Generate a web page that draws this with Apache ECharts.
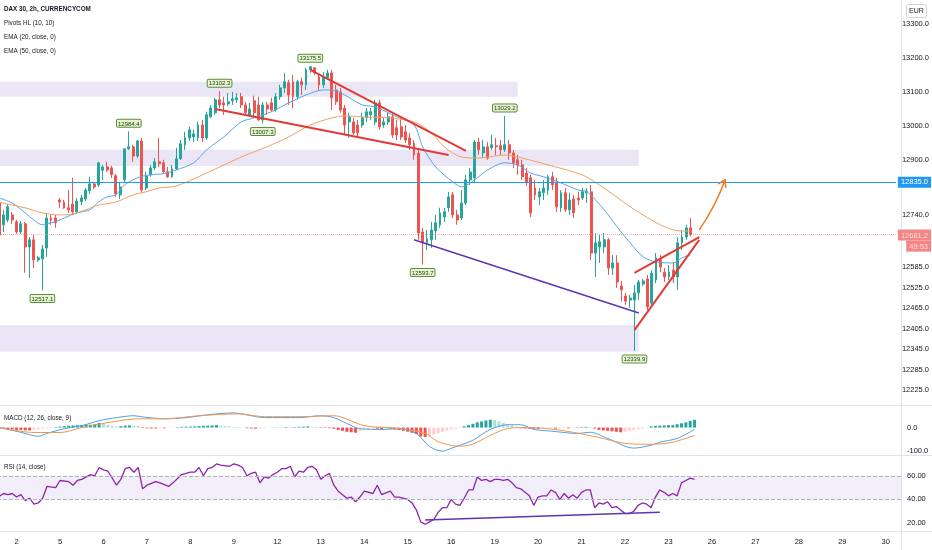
<!DOCTYPE html>
<html><head><meta charset="utf-8">
<script src="https://cdn.jsdelivr.net/npm/echarts@6/dist/echarts.min.js"></script>
<style>html,body{margin:0;padding:0;background:#fff;overflow:hidden}#c{width:935px;height:550px;margin-left:-3px}</style>
</head><body><div id="c"></div>
<script>
// ---------- data ----------
const dayLabels = ['2','5','6','7','8','9','12','13','14','15','16','19','20','21','22','23','26','27','28','29','30'];
const firstDayBar = 4;
const barsPerDay = 10;
const totalSlots = 208;

const candles = [ // [open, high, low, close]
[12774,12783,12671,12680],[12710,12754,12689,12739],[12724,12771,12718,12763],[12739,12748,12713,12724],[12719,12724,12683,12689],
[12689,12721,12683,12713],[12713,12718,12569,12645],[12645,12674,12554,12666],[12666,12680,12583,12607],[12607,12619,12601,12613],
[12610,12651,12517.1,12639],[12642,12745,12616,12730],[12730,12739,12710,12724],[12730,12739,12701,12716],[12783,12789,12760,12777],
[12777,12783,12757,12760],[12760,12812,12745,12754],[12771,12848,12739,12748],[12748,12789,12742,12780],[12778,12798,12768,12789],
[12786,12818,12780,12812],[12810,12851,12801,12830],[12830,12836,12815,12821],[12827,12895,12821,12892],[12870,12886,12842,12880],
[12880,12895,12865,12871],[12877,12883,12848,12857],[12854,12860,12792,12801],[12798,12833,12786,12821],[12842,12933,12833,12933],
[12933,12984.4,12930,12939],[12939,12945,12895,12912],[12912,12960,12906,12956],[12956,12965,12804,12812],[12818,12866,12812,12854],
[12857,12886,12851,12877],[12877,12906,12871,12895],[12895,12965,12880,12889],[12892,12901,12860,12866],[12866,12880,12848,12851],
[12851,12886,12848,12874],[12874,12936,12871,12904],[12904,12959,12901,12948],[12945,12983,12930,12965],[12965,12998,12956,12989],
[12968,12989,12953,12977],[12965,13012,12956,13003],[13003,13018,12953,12965],[12965,13042,12959,13033],[13027,13062,13024,13053],
[13039,13083,13033,13077],[13077,13102.3,13053,13062],[13068,13086,13033,13062],[13065,13097,13059,13071],[13074,13100,13062,13080],
[13077,13097,13068,13083],[13086,13097,13053,13062],[13062,13071,13033,13039],[13033,13068,13027,13050],[13074,13089,13024,13039],
[13062,13086,13015,13018],[13018,13071,13007.3,13062],[13062,13071,13033,13050],[13068,13083,13042,13047],[13047,13097,13042,13086],
[13086,13121,13077,13112],[13112,13156,13097,13130],[13127,13136,13062,13091],[13130,13150,13053,13086],[13086,13136,13077,13130],
[13130,13142,13091,13121],[13121,13171,13106,13165],[13165,13175.5,13156,13174],[13171,13173,13150,13156],[13144,13150,13106,13121],
[13121,13159,13112,13144],[13142,13165,13136,13156],[13156,13165,13047,13083],[13106,13121,13062,13071],[13100,13112,13039,13047],
[13053,13062,12974,13003],[13012,13039,12965,13027],[13012,13024,12974,12980],[13003,13018,12968,12980],[13003,13039,12995,13024],
[13024,13053,13012,13042],[13033,13053,13018,13042],[13012,13077,13003,13068],[13068,13077,12989,12998],[13003,13024,12995,13012],
[13012,13039,13003,13027],[13027,13039,12965,12974],[12995,13018,12959,12974],[12998,13024,12959,12968],[12983,13003,12950,12959],
[12965,12980,12930,12945],[12950,12959,12901,12915],[12921,12930,12666,12686],[12689,12701,12593.7,12657],[12657,12695,12636,12669],
[12666,12718,12642,12695],[12692,12739,12666,12716],[12710,12760,12701,12745],[12733,12760,12718,12748],[12760,12807,12748,12792],
[12798,12807,12730,12739],[12739,12754,12710,12724],[12730,12812,12724,12774],[12774,12857,12768,12842],[12842,12877,12827,12865],
[12848,12959,12836,12953],[12953,12965,12915,12930],[12921,12959,12906,12939],[12939,12953,12901,12906],[12936,12974,12930,12945],
[12942,12965,12915,12939],[12942,12959,12915,12930],[12930,13029.2,12924,12945],[12945,12959,12901,12921],[12921,12930,12877,12892],
[12901,12915,12857,12886],[12886,12901,12842,12851],[12862,12877,12824,12833],[12848,12857,12733,12745],[12818,12842,12783,12798],
[12792,12818,12768,12807],[12804,12842,12783,12818],[12812,12857,12798,12851],[12851,12866,12812,12827],[12833,12848,12748,12763],
[12760,12812,12748,12804],[12804,12818,12748,12754],[12754,12804,12739,12783],[12786,12798,12730,12745],[12789,12807,12768,12783],
[12789,12818,12783,12807],[12804,12818,12774,12809],[12807,12827,12607,12627],[12627,12686,12557,12657],[12645,12680,12598,12660],
[12645,12686,12627,12666],[12666,12671,12563,12583],[12583,12621,12563,12598],[12598,12621,12525,12542],[12530,12545,12486,12519],
[12501,12510,12475,12486],[12489,12504,12466,12495],[12489,12533,12339.9,12510],[12510,12548,12489,12542],[12536,12551,12530,12545],
[12551,12563,12460,12469],[12480,12577,12472,12568],[12548,12627,12539,12613],[12607,12621,12571,12586],[12571,12583,12542,12557],
[12557,12592,12548,12571],[12577,12601,12539,12557],[12557,12674,12519,12657],[12657,12695,12636,12674],[12674,12710,12666,12701],
[12701,12730,12676,12681.2]
];

const ema20 = [[0,12789],[3,12774],[6,12745],[8,12724],[10,12710],[11,12713],[13,12719],[15,12730],[18,12745],[21,12754],[23,12777],[25,12792],[27,12798],[29,12827],[32,12848],[35,12857],[38,12860],[41,12871],[45,12892],[48,12930],[52,12968],[56,13012],[59,13024],[63,13042],[67,13068],[71,13091],[75,13106],[78,13103],[80,13091],[84,13062],[87,13056],[92,13027],[96,13003],[98,12939],[101,12880],[105,12836],[107,12821],[110,12842],[113,12871],[117,12892],[120,12886],[123,12862],[126,12851],[130,12833],[134,12812],[136,12807],[140,12754],[143,12704],[146,12657],[149,12616],[152,12601],[156,12598],[158,12613],[160,12622]];
const ema50 = [[0,12777],[3,12768],[6,12760],[10,12745],[14,12739],[17,12742],[20,12754],[23,12768],[27,12777],[31,12798],[34,12807],[37,12818],[41,12824],[48,12862],[56,12909],[62,12939],[67,12968],[72,13003],[77,13024],[80,13030],[84,13027],[90,13024],[96,13012],[100,12980],[103,12939],[107,12909],[111,12906],[117,12915],[121,12906],[127,12886],[133,12865],[136,12850],[142,12800],[146,12763],[149,12739],[153,12710],[156,12695],[158,12692],[160,12692]];

const macdLine = [[0,0],[5,-20],[9,-37],[11,-25],[15,-5],[19,8],[23,29],[27,42],[31,50],[33,45],[38,37],[43,42],[48,54],[54,62],[58,50],[61,42],[69,42],[74,50],[77,42],[80,17],[83,-5],[88,-8],[92,-5],[96,-25],[99,-80],[102,-100],[104,-88],[106,-75],[109,-54],[113,-8],[117,12],[120,12],[123,-8],[127,-15],[133,-25],[136,-20],[140,-46],[146,-87],[150,-75],[152,-62],[156,-46],[160,-8]];
const signalLine = [[0,0],[8,-21],[14,-21],[19,0],[25,21],[32,37],[38,37],[46,50],[55,58],[61,46],[69,46],[77,50],[84,8],[92,-4],[98,-25],[101,-60],[104,-75],[106,-79],[109,-70],[113,-33],[117,-4],[121,0],[126,-4],[132,-20],[138,-42],[144,-67],[150,-71],[155,-62],[160,-33]];
const macdHist = [-5,-6,-8,-8,-10,-10,-12,-12,-10,-8, -5,-3,-2,2, 4,6,8,9,10,11,12,12,14, 20,16,12,8,5, 6,8,9,8,7,
 -2,-3,-4,-4,-3,-3,-2,-1, 2,3,4,4,5,6,7,8,9,10, 8,6,5,3,2,1, -3,-4,-5,-4,-3, -1,1,-1,1,2,-1, 2,3,4,5,4,
 -1,-2,-2,-3,-5, -10,-14,-18,-20,-22, -15,-10,-6,-4, -5,-6,-4,-5, -8,-10,-14,-18,-22,-28, -38,-40,-36,-30,
 -24,-18,-12,-8,-5,-2, 5,10,16,22, 26,30,33,32, 26,20,14,9,4, -3,-4,-5,-5,-6,-4, -3,-2,-4,-3,-2,-3,-1,-2,
 2,3,2,-4, -10,-12,-14,-16,-18,-20,-18,-15, -10,-7,-4,-2, 5,7,8,9,10,10, 14,18,22,28,33];

const rsi = [[0,42.5],[1,45],[2,44],[3,45],[4,42],[5,44],[6,39],[7,41],[8,36],[9,37],[10,41],[11,51],[13,50],[14,56],[16,55],[17,52],[18,56],[19,57],[21,61],[22,60],[23,67],[24,65],[25,64],[27,52],[28,57],[29,66],[30,67],[31,63],[32,67],[33,49],[34,52],[36,55],[37,54],[39,51],[40,54],[42,61],[43,62],[44,63],[45,63],[46,67],[47,60],[48,66],[49,67],[50,70],[51,69],[53,68],[54,70],[55,69],[56,67],[57,60],[58,62],[59,63],[60,54],[61,59],[62,58],[63,61],[64,63],[65,66],[66,66],[67,68],[68,59],[69,64],[70,63],[71,67],[72,68],[73,65],[74,57],[75,60],[76,62],[77,52],[78,47],[80,41],[81,42],[82,38],[83,42],[84,47],[86,45],[87,52],[88,44],[90,47],[91,42],[92,42],[94,40],[95,37],[96,31],[97,21],[98,19],[99,21],[100,23],[101,29],[102,33],[103,33],[104,40],[105,36],[106,35],[107,41],[108,48],[109,48],[110,59],[111,56],[112,57],[113,55],[114,57],[115,57],[116,56],[117,57],[118,54],[119,50],[120,49],[121,46],[122,43],[123,35],[124,42],[125,43],[126,43],[127,48],[128,46],[129,40],[130,45],[131,41],[132,44],[133,41],[134,46],[135,48],[136,48],[137,33],[138,37],[139,36],[140,38],[141,33],[142,34],[143,31],[144,28],[145,28],[146,30],[147,35],[148,37],[149,36],[150,33],[151,42],[152,48],[153,46],[154,43],[155,45],[156,43],[157,54],[158,56],[159,58],[160,57]];

const pivotBars   = [10, 30, 51, 61, 72, 98, 117, 147];
const pivotValues = [12517.1, 12984.4, 13102.3, 13007.3, 13175.5, 12593.7, 13029.2, 12339.9];
const pivotSides  = ['low','high','high','low','high','low','high','low'];

const zoneTops    = [13130, 12930, 12416];
const zoneBottoms = [13086, 12883, 12337];
const zoneEnds    = [120, 148, 148];

const redTrendLines = [[[50,13050],[104,12915]], [[72,13165],[108,12927]], [[147,12401],[162,12666]], [[147,12569],[162,12674]]];
const purpleTrendLine = [[96,12666],[148,12451]];
const arrowFrom = [162,12695], arrowTo = [168,12842];
const rsiTrendLine = [[98,22.5],[152,29.2]];

const priceTicks = [13300,13200,13100,13000,12900,12740,12585,12525,12465,12405,12345,12285,12225];
const macdTicks = [0,-100];
const rsiTicks = [60,40,20];
const levelPrice = 12835.0, lastPrice = 12681.2, countdown = '49:53';

// ---------- build ----------
const FONT = '"Liberation Sans", "DejaVu Sans", sans-serif';
const TXT = '#131722';
const SX = 3; // page offset of the canvas
const NARROW = 0.84;
const cats = Array.from({length: totalSlots}, (_, i) => String(i));
const dayOf = i => { const k = (i - firstDayBar) / barsPerDay; return (Number.isInteger(k) && k >= 0 && k < dayLabels.length) ? dayLabels[k] : ''; };
const candleData = candles.map(c => [c[0], c[3], c[2], c[1]]);
const histData = macdHist.map((v, i) => {
  const p = i > 0 ? macdHist[i-1] : v;
  let col;
  if (v >= 0) col = v >= p ? '#26a69a' : '#b2dfdb'; else col = v > p ? '#ffcdd2' : '#ef5350';
  return {value: v, itemStyle: {color: col}};
});

const chart = echarts.init(document.getElementById('c'), null, {renderer: 'canvas'});
const grids = [
  {left: 0, right: 31, top: 0, height: 405},
  {left: 0, right: 31, top: 407, height: 47},
  {left: 0, right: 31, top: 456, height: 75}
];
const mkX = (gi, showLabels) => ({
  type: 'category', gridIndex: gi, data: cats, boundaryGap: true,
  axisLine: {show: false}, axisTick: {show: false}, splitLine: {show: false},
  axisLabel: showLabels ? {show: true, interval: (i) => dayOf(i) !== '', formatter: (v, i) => dayOf(i), color: TXT, fontSize: 7.5, fontFamily: FONT, margin: 7} : {show: false}
});
const mkY = (gi, min, max, ticks, dec) => ({
  type: 'value', gridIndex: gi, position: 'right', min, max, scale: true,
  axisLine: {show: false}, axisTick: {show: false}, splitLine: {show: false},
  axisLabel: {show: true, customValues: ticks, formatter: v => Number(v).toFixed(dec), color: TXT, fontSize: 7.5, fontFamily: FONT, margin: 6, showMinLabel: true, showMaxLabel: true}
});

const markLineData = [
  {yAxis: levelPrice, lineStyle: {color: '#2196f3', width: 1, type: 'solid'},
   label: {show: true, position: 'end', distance: 2, formatter: levelPrice.toFixed(1), backgroundColor: '#2196f3', color: '#fff', padding: [2, 3, 1, 3], fontSize: 7.5, fontFamily: FONT}},
  {yAxis: lastPrice, lineStyle: {color: '#f28b8b', width: 1, type: 'dotted', opacity: 0.7},
   label: {show: true, position: 'end', distance: 2, offset: [0, 6], formatter: '{p|' + lastPrice.toFixed(1) + '}\n{t|' + countdown + '}',
     rich: {p: {backgroundColor: '#ef5350', color: '#fff', padding: [2, 3, 1, 3], fontSize: 7.5, fontFamily: FONT},
            t: {backgroundColor: '#ef5350', color: '#fff', padding: [2, 3, 1, 3], fontSize: 7.5, fontFamily: FONT, align: 'right'}}}}
];
redTrendLines.forEach(l => markLineData.push([
  {coord: l[0], lineStyle: {color: '#e53935', width: 2, type: 'solid'}, label: {show: false}},
  {coord: l[1]}
]));
markLineData.push([
  {coord: purpleTrendLine[0], lineStyle: {color: '#5e35b1', width: 1.5, type: 'solid'}, label: {show: false}},
  {coord: purpleTrendLine[1]}
]);

const zoneData = zoneTops.map((t, i) => [{xAxis: 0, yAxis: t}, {xAxis: zoneEnds[i], yAxis: zoneBottoms[i]}]);

const pivotData = pivotBars.map((b, i) => ({
  name: pivotValues[i].toFixed(1), coord: [b, pivotValues[i]],
  label: {position: pivotSides[i] === 'high' ? 'top' : 'bottom'}
}));

const legendText = (txt, top, bold) => ({
  type: 'text', x: 4 + SX, y: top, scaleX: NARROW, originX: 0,
  style: {text: txt, font: (bold ? 'bold ' : '') + '7.5px ' + FONT, fill: TXT}
});

const option = {
  animation: false,
  backgroundColor: '#ffffff',
  grid: grids,
  xAxis: [mkX(0, false), mkX(1, false), mkX(2, true)],
  yAxis: [mkY(0, 12181, 13370, priceTicks, 1), mkY(1, -112, 87, macdTicks, 1), mkY(2, 13.3, 76.7, rsiTicks, 2)],
  series: [
    {
      type: 'candlestick', xAxisIndex: 0, yAxisIndex: 0, data: candleData, barWidth: 2.4,
      itemStyle: {color: '#26a69a', color0: '#ef5350', borderColor: '#26a69a', borderColor0: '#ef5350', borderWidth: 1},
      markArea: {silent: true, itemStyle: {color: 'rgba(103,58,183,0.13)'}, data: zoneData},
      markLine: {silent: true, symbol: ['none', 'none'], data: markLineData},
      markPoint: {
        silent: true, symbol: 'rect', symbolSize: [1, 1], itemStyle: {color: 'rgba(0,0,0,0)'},
        label: {show: true, formatter: p => p.name, distance: 4, fontSize: 6, fontFamily: FONT, color: '#1e3a10',
                backgroundColor: '#e6f4d2', borderColor: '#5d8f3a', borderWidth: 1, borderRadius: 1, padding: [1, 1, 0, 1]},
        data: pivotData
      }
    },
    {type: 'line', xAxisIndex: 0, yAxisIndex: 0, data: ema20, showSymbol: false, smooth: 0.3, lineStyle: {color: '#53a7e6', width: 1}, z: 3},
    {type: 'line', xAxisIndex: 0, yAxisIndex: 0, data: ema50, showSymbol: false, smooth: 0.3, lineStyle: {color: '#f2a060', width: 1}, z: 3},
    {
      type: 'custom', xAxisIndex: 0, yAxisIndex: 0, data: [[arrowFrom[0], arrowFrom[1], arrowTo[0], arrowTo[1]]], z: 5, silent: true,
      renderItem: (params, api) => {
        const p0 = api.coord([api.value(0), api.value(1)]);
        const p1 = api.coord([api.value(2), api.value(3)]);
        const ang = Math.atan2(p1[1] - p0[1], p1[0] - p0[0]);
        const L = 8, a = 0.55;
        const h1 = [p1[0] - L * Math.cos(ang - a), p1[1] - L * Math.sin(ang - a)];
        const h2 = [p1[0] - L * Math.cos(ang + a), p1[1] - L * Math.sin(ang + a)];
        const cp = [(p0[0] + p1[0]) / 2 + 3, (p0[1] + p1[1]) / 2 + 2];
        return {type: 'group', children: [
          {type: 'bezierCurve', shape: {x1: p0[0], y1: p0[1], x2: p1[0], y2: p1[1], cpx1: cp[0], cpy1: cp[1]}, style: {stroke: '#ef7a1f', lineWidth: 1.5, fill: null}},
          {type: 'polyline', shape: {points: [h1, p1, h2]}, style: {stroke: '#ef7a1f', lineWidth: 1.5, fill: null}}
        ]};
      }
    },
    {type: 'bar', xAxisIndex: 1, yAxisIndex: 1, data: histData, barWidth: 3, z: 2},
    {type: 'line', xAxisIndex: 1, yAxisIndex: 1, data: macdLine, showSymbol: false, smooth: 0.3, lineStyle: {color: '#4aa3e8', width: 1}, z: 3},
    {type: 'line', xAxisIndex: 1, yAxisIndex: 1, data: signalLine, showSymbol: false, smooth: 0.3, lineStyle: {color: '#f2964f', width: 1}, z: 3},
    {
      type: 'line', xAxisIndex: 2, yAxisIndex: 2, data: rsi, showSymbol: false, lineStyle: {color: '#8e24aa', width: 1.3}, z: 3,
      markArea: {silent: true, itemStyle: {color: 'rgba(126,87,194,0.10)'}, data: [[{yAxis: 60}, {yAxis: 40}]]},
      markLine: {silent: true, symbol: ['none', 'none'], label: {show: false}, data: [
        {yAxis: 60, lineStyle: {color: '#b2b5be', type: 'dashed', width: 1}},
        {yAxis: 40, lineStyle: {color: '#b2b5be', type: 'dashed', width: 1}},
        [{coord: rsiTrendLine[0], lineStyle: {color: '#5e35b1', width: 1.5, type: 'solid'}}, {coord: rsiTrendLine[1]}]
      ]}
    }
  ],
  graphic: [
    {type: 'line', shape: {x1: 0, y1: 405.5, x2: 935, y2: 405.5}, style: {stroke: '#e0e3eb', lineWidth: 1}, silent: true},
    {type: 'line', shape: {x1: 0, y1: 455.5, x2: 935, y2: 455.5}, style: {stroke: '#e0e3eb', lineWidth: 1}, silent: true},
    {type: 'line', shape: {x1: 0, y1: 531.5, x2: 935, y2: 531.5}, style: {stroke: '#e0e3eb', lineWidth: 1}, silent: true},
    {type: 'line', shape: {x1: 901.5 + SX, y1: 0, x2: 901.5 + SX, y2: 550}, style: {stroke: '#e0e3eb', lineWidth: 1}, silent: true},
    legendText('DAX 30, 2h, CURRENCYCOM', 5, true),
    legendText('Pivots HL (10, 10)', 19, false),
    legendText('EMA (20, close, 0)', 33, false),
    legendText('EMA (50, close, 0)', 47, false),
    legendText('MACD (12, 26, close, 9)', 414, false),
    legendText('RSI (14, close)', 463, false),
    {type: 'group', left: 906 + SX, top: 4, children: [
      {type: 'rect', shape: {x: 0, y: 0, width: 20, height: 13, r: 2}, style: {fill: '#fff', stroke: '#d1d4dc', lineWidth: 1}},
      {type: 'text', x: 10, y: 7, style: {text: 'EUR', font: '7px ' + FONT, fill: TXT, align: 'center', verticalAlign: 'middle'}}
    ]}
  ]
};
chart.setOption(option);
</script>
</body></html>
